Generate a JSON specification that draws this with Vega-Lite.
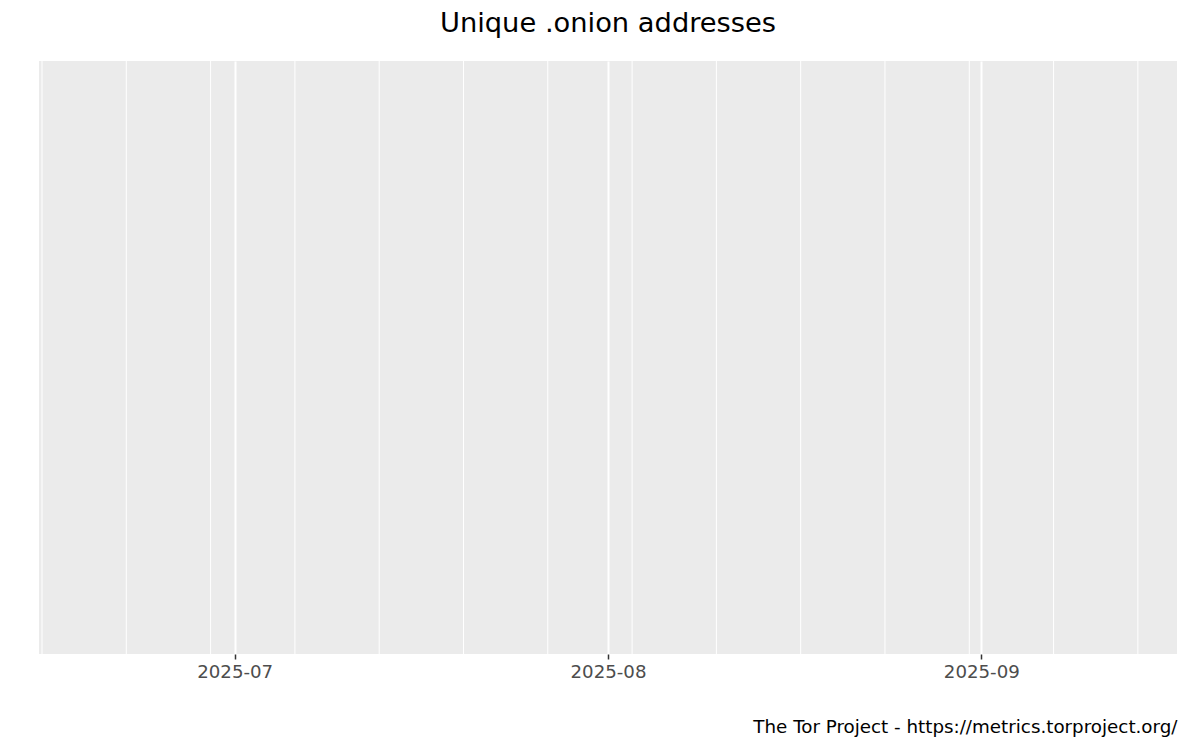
{
  "$schema": "https://vega.github.io/schema/vega-lite/v6.json",
  "width": 1138,
  "height": 593,
  "autosize": {"type": "none"},
  "padding": {"left": 39, "top": 61, "right": 23, "bottom": 96},
  "background": "white",
  "config": {
    "font": "DejaVu Sans",
    "view": {"fill": "#EBEBEB", "stroke": null}
  },
  "title": {
    "text": "Unique .onion addresses",
    "fontSize": 27.3,
    "fontWeight": "normal",
    "color": "black",
    "anchor": "middle",
    "offset": 23
  },
  "data": {
    "values": [
      {"week": "2025-06-15"},
      {"week": "2025-06-22"},
      {"week": "2025-06-29"},
      {"week": "2025-07-06"},
      {"week": "2025-07-13"},
      {"week": "2025-07-20"},
      {"week": "2025-07-27"},
      {"week": "2025-08-03"},
      {"week": "2025-08-10"},
      {"week": "2025-08-17"},
      {"week": "2025-08-24"},
      {"week": "2025-08-31"},
      {"week": "2025-09-07"},
      {"week": "2025-09-14"}
    ]
  },
  "mark": {"type": "rule", "color": "white", "strokeWidth": 1},
  "encoding": {
    "x": {
      "field": "week",
      "type": "temporal",
      "scale": {"domain": ["2025-06-14T18:00:00", "2025-09-17T06:00:00"]},
      "axis": {
        "values": ["2025-07-01T00:00:00", "2025-08-01T00:00:00", "2025-09-01T00:00:00"],
        "format": "%Y-%m",
        "grid": true,
        "gridColor": "white",
        "gridWidth": 2,
        "gridOpacity": 1,
        "domain": false,
        "ticks": true,
        "tickColor": "#333333",
        "tickSize": 5,
        "tickWidth": 1.5,
        "labelFontSize": 18.2,
        "labelColor": "#4D4D4D",
        "labelPadding": 4,
        "labelFlush": false,
        "title": "The Tor Project - https://metrics.torproject.org/",
        "titleFontSize": 18.3,
        "titleFontWeight": "normal",
        "titleColor": "black",
        "titleAnchor": "end",
        "titlePadding": 38
      }
    }
  }
}
